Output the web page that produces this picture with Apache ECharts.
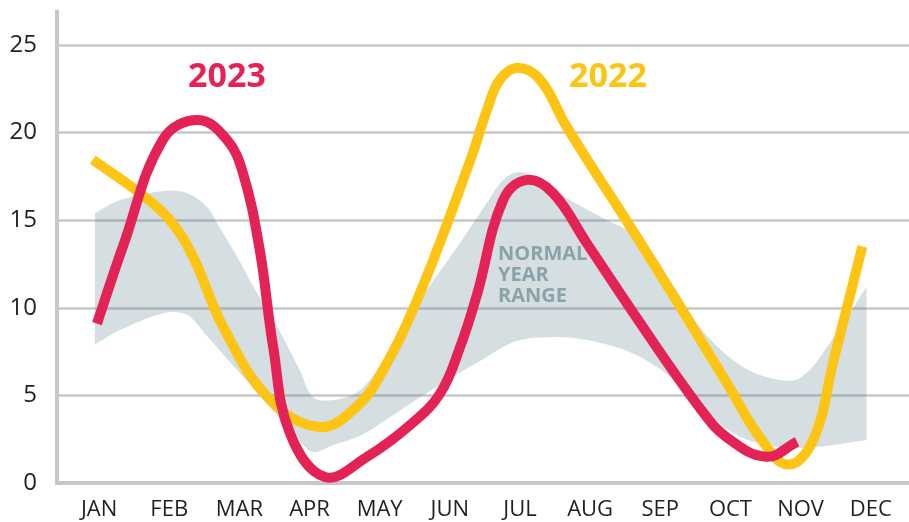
<!DOCTYPE html>
<html><head><meta charset="utf-8">
<script src="https://cdn.jsdelivr.net/npm/echarts@6/dist/echarts.min.js"></script>
<style>html,body{margin:0;padding:0;background:#fff}#c{width:909px;height:522px}</style>
</head><body><div id="c"></div>
<script>
// Month labels (category tick labels)
const months = ['JAN','FEB','MAR','APR','MAY','JUN','JUL','AUG','SEP','OCT','NOV','DEC'];

// Series: [month index (0 = JAN), value]
const series2023 = [
  [-0.03, 9.1], [0.34, 13.5], [0.91, 19.6], [1.41, 20.72], [1.82, 19.6],
  [2.05, 17.7], [2.29, 13.3], [2.48, 7.8], [2.72, 2.85], [3.22, 0.34],
  [3.82, 1.5], [4.43, 3.3], [4.86, 5.1], [5.15, 7.8], [5.39, 10.8],
  [5.76, 16.15], [6.10, 17.3], [6.47, 16.55], [6.95, 13.7], [7.60, 9.8],
  [8.56, 4.3], [8.95, 2.6], [9.51, 1.5], [9.95, 2.35]
];
const series2022 = [
  [-0.09, 18.45], [0.58, 16.55], [1.01, 15.0], [1.34, 12.9], [1.77, 8.9],
  [2.44, 4.74], [3.15, 3.2], [3.67, 4.35], [4.05, 6.45], [4.575, 10.85],
  [5.29, 18.4], [5.53, 21.3], [5.71, 23.0], [5.97, 23.7], [6.29, 23.0],
  [6.67, 20.3], [7.75, 13.5], [8.95, 5.7], [9.42, 2.6], [9.82, 1.05],
  [10.18, 2.45], [10.47, 7.0], [10.88, 13.5]
];

// Normal year range band
const bandX    = [-0.06, 0.30, 0.91, 1.25, 1.54, 1.68, 1.97, 2.20, 2.54, 2.86, 3.05, 3.34, 3.72, 4.05, 4.575, 5.04, 5.53, 5.76, 6.00, 6.28, 6.71, 7.24, 7.71, 8.23, 8.56, 9.04, 9.51, 9.99, 10.47, 10.94];
const bandHigh = [15.4, 16.15, 16.67, 16.55, 15.75, 14.84, 12.9, 11.2, 8.9, 6.45, 4.9, 4.74, 5.3, 7.0, 10.45, 13.1, 16.0, 17.3, 17.75, 17.3, 16.15, 15.0, 14.0, 11.0, 8.9, 7.0, 6.05, 6.0, 8.3, 11.2];
const bandLow  = [7.9, 8.73, 9.68, 9.6, 8.38, 7.75, 6.43, 5.39, 3.85, 2.4, 1.77, 2.17, 2.7, 3.5, 4.9, 6.05, 7.2, 7.76, 8.16, 8.3, 8.3, 7.9, 7.2, 5.8, 4.5, 2.85, 2.17, 2.0, 2.17, 2.45];

const RED = '#e32355', YELLOW = '#fdc414', BAND = 'rgba(87,123,135,0.25)', GRID = '#c6c7c9', TXT = '#231f20';
const FONT = '"Open Sans", "Noto Sans", sans-serif';

// Smooth curve through pixel points (length-weighted tangents) -> SVG path commands
function curve(pts, first, s) {
  const n = pts.length;
  const tangent = i => {
    const a = pts[Math.max(0, i - 1)], b = pts[Math.min(n - 1, i + 1)], p = pts[i];
    const vx = b[0] - a[0], vy = b[1] - a[1];
    const d0 = Math.hypot(p[0] - a[0], p[1] - a[1]), d1 = Math.hypot(b[0] - p[0], b[1] - p[1]);
    const t = d0 + d1 || 1;
    return {bx: -vx * s * d0 / t, by: -vy * s * d0 / t, fx: vx * s * d1 / t, fy: vy * s * d1 / t};
  };
  let d = (first ? 'M' : 'L') + pts[0][0] + ' ' + pts[0][1];
  for (let i = 0; i < n - 1; i++) {
    const t1 = tangent(i), t2 = tangent(i + 1), p1 = pts[i], p2 = pts[i + 1];
    d += 'C' + (p1[0] + t1.fx) + ' ' + (p1[1] + t1.fy) + ' ' + (p2[0] + t2.bx) + ' ' + (p2[1] + t2.by) + ' ' + p2[0] + ' ' + p2[1];
  }
  return d;
}

function lineSeries(name, data, color) {
  return {
    type: 'custom', name: name, xAxisIndex: 0, yAxisIndex: 0, silent: true,
    encode: {x: 0, y: 1}, data: data,
    renderItem: function (params, api) {
      if (params.dataIndex !== 0) return null;
      const pts = data.map(p => api.coord(p));
      return {type: 'path', shape: {pathData: curve(pts, true, 0.4)},
              style: {fill: null, stroke: color, lineWidth: 10, lineCap: 'butt', lineJoin: 'round'}};
    }
  };
}

const chart = echarts.init(document.getElementById('c'), null, {renderer: 'canvas'});
chart.setOption({
  animation: false,
  backgroundColor: '#fff',
  textStyle: {fontFamily: FONT},
  grid: [
    {left: 57, right: 0, top: 11.7, bottom: 39, containLabel: false},
    {left: 64, right: 3.2, top: 11.7, bottom: 39, containLabel: false}
  ],
  xAxis: [
    {type: 'value', gridIndex: 0, min: -0.6, max: 11.545,
     axisLine: {show: true, onZero: false, lineStyle: {color: GRID, width: 4, cap: 'square'}},
     axisTick: {show: false}, axisLabel: {show: false}, splitLine: {show: false}},
    {type: 'category', gridIndex: 1, data: months, boundaryGap: true,
     axisLine: {show: false}, axisTick: {show: false}, splitLine: {show: false},
     axisLabel: {color: TXT, fontSize: 22, margin: 16, fontFamily: FONT}}
  ],
  yAxis: [
    {type: 'value', gridIndex: 0, min: 0, max: 26.9, interval: 5,
     axisLine: {show: true, onZero: false, lineStyle: {color: GRID, width: 4, cap: 'square'}},
     axisTick: {show: false},
     axisLabel: {color: TXT, fontSize: 24, margin: 20, showMaxLabel: false, fontFamily: FONT,
                 formatter: v => (v % 5 === 0 ? String(v) : '')},
     splitLine: {show: true, showMaxLine: false, lineStyle: {color: GRID, width: 2.5}}},
    {type: 'value', gridIndex: 1, show: false, min: 0, max: 1}
  ],
  graphic: [
    {type: 'text', x: 227, y: 77, z: 100,
     style: {text: '2023', fill: RED, font: 'bold 34px ' + FONT, textAlign: 'center', textVerticalAlign: 'middle'}},
    {type: 'text', x: 608, y: 77, z: 100,
     style: {text: '2022', fill: YELLOW, font: 'bold 34px ' + FONT, textAlign: 'center', textVerticalAlign: 'middle'}},
    {type: 'text', x: 498, y: 244, z: 100,
     style: {text: 'NORMAL\nYEAR\nRANGE', fill: '#8aa3aa', font: 'bold 20px ' + FONT, lineHeight: 21, textAlign: 'left', textVerticalAlign: 'top'}}
  ],
  series: [
    {type: 'custom', name: 'range', xAxisIndex: 0, yAxisIndex: 0, silent: true,
     encode: {x: 0, y: [1, 2]},
     data: bandX.map((x, i) => [x, bandLow[i], bandHigh[i]]),
     renderItem: function (params, api) {
       if (params.dataIndex !== 0) return null;
       const up = bandX.map((x, i) => api.coord([x, bandHigh[i]]));
       const lo = bandX.map((x, i) => api.coord([x, bandLow[i]])).reverse();
       const d = curve(up, true, 0.35) + curve(lo, false, 0.35) + 'Z';
       return {type: 'path', shape: {pathData: d}, style: {fill: BAND}};
     }},
    lineSeries('2022', series2022, YELLOW),
    lineSeries('2023', series2023, RED)
  ]
});
</script></body></html>
